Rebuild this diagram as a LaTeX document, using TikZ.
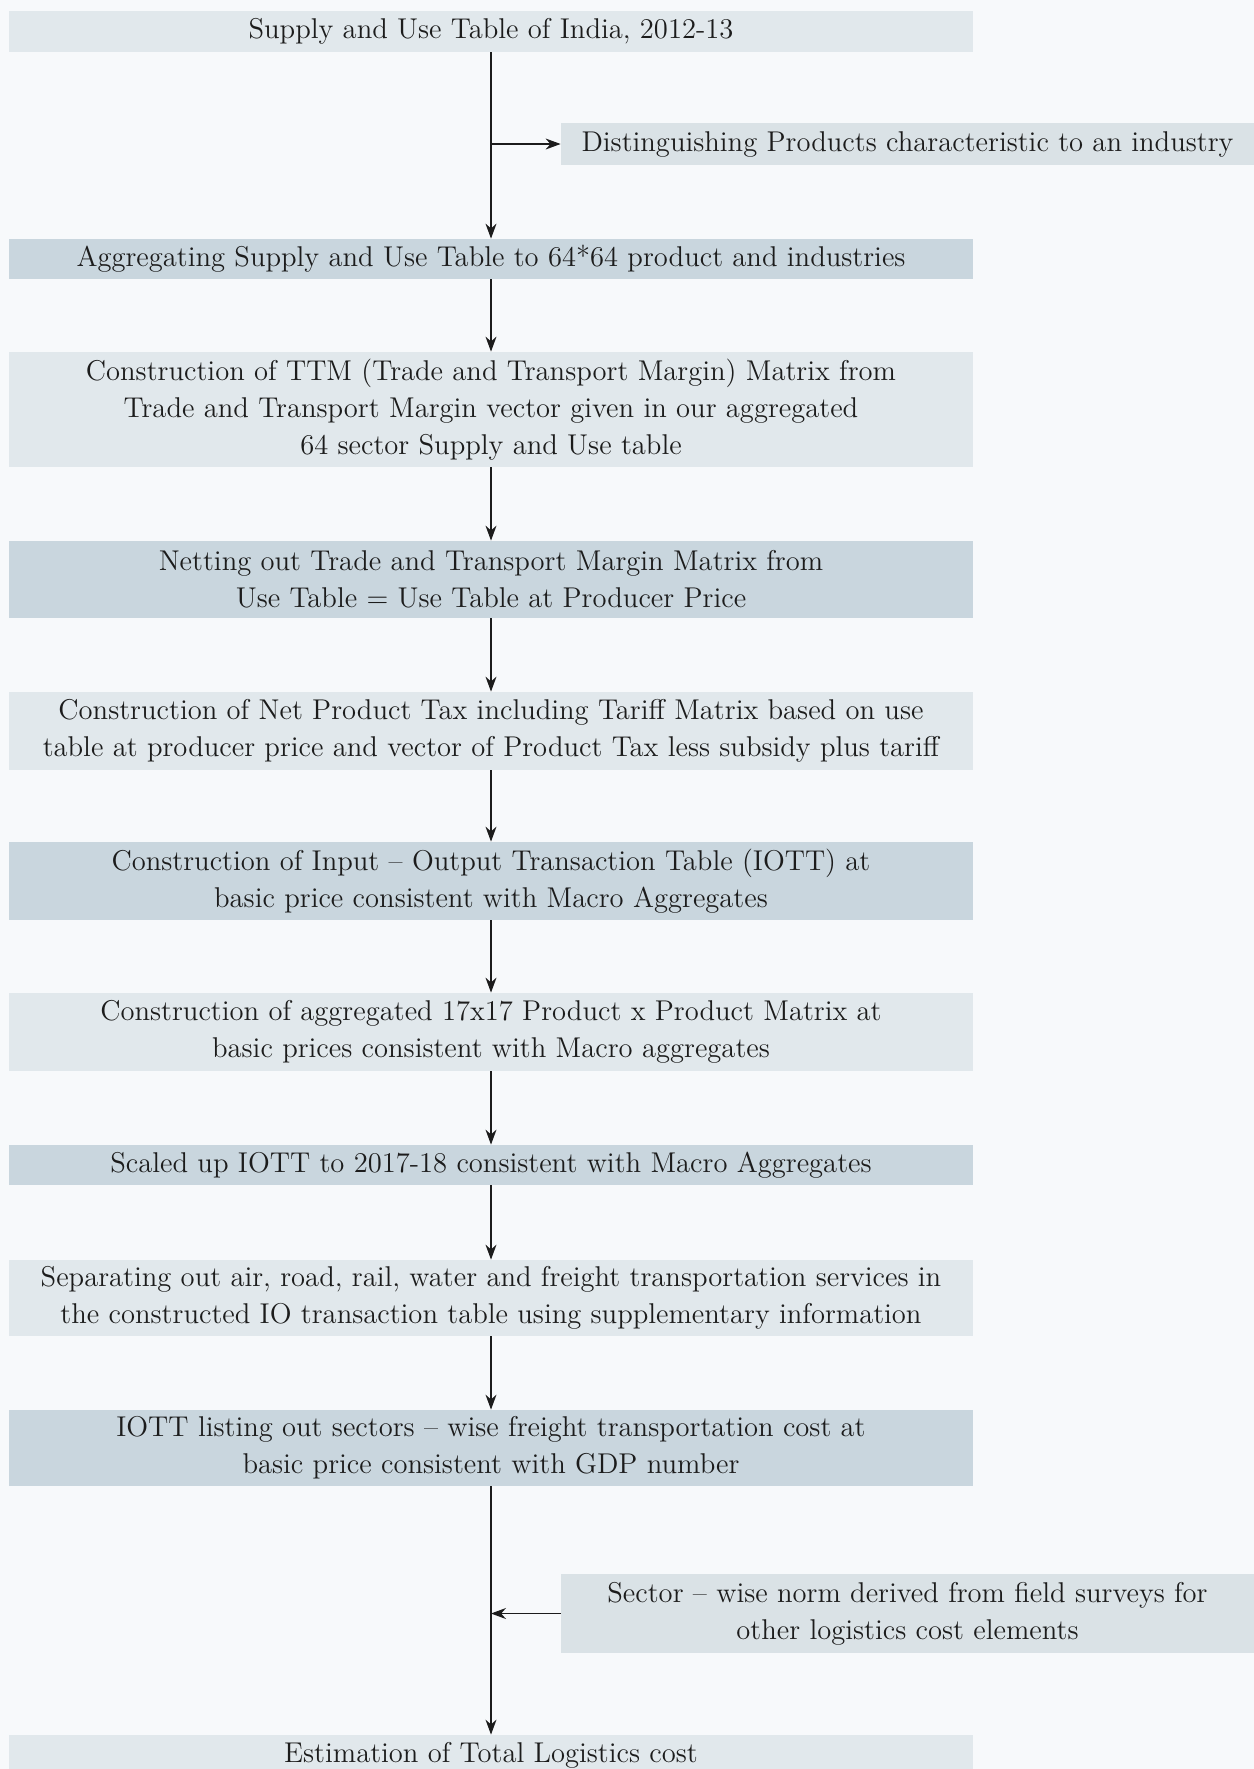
\documentclass[tikz,border=0pt]{standalone}
\usepackage{tikz}
\usetikzlibrary{positioning, arrows.meta, calc}
\usepackage{xcolor}
\definecolor{pagebg}{HTML}{F7F9FB}
\definecolor{boxlight}{HTML}{E1E8EC}
\definecolor{boxdark}{HTML}{C9D6DE}
\definecolor{boxside}{HTML}{DAE2E6}
\definecolor{inkgray}{HTML}{1C1C1C}

\begin{document}
\begin{tikzpicture}[x=0.5pt, y=-0.5pt,
  every node/.style={font=\fontsize{14.3pt}{18.6pt}\selectfont, text=inkgray, align=center, inner sep=0pt},
  mainbox/.style={minimum width=482pt},
  lightbox/.style={mainbox, fill=boxlight},
  darkbox/.style={mainbox, fill=boxdark},
  sidebox/.style={fill=boxside, minimum width=346.5pt},
  flow/.style={draw=inkgray, line width=0.6pt, -{Stealth[length=7.5pt, width=5.5pt]}}]
\clip (0, 0) rectangle (1254, 1769);
\fill[pagebg] (0, 0) rectangle (1254, 1769);

\node[lightbox, minimum height=20.5pt] (sut) at (491, 31.5) {Supply and Use Table of India, 2012-13};
\node[sidebox, minimum height=21pt] (dist) at (907.5, 144) {Distinguishing Products characteristic to an industry};
\node[darkbox, minimum height=20pt] (agg) at (491, 259) {Aggregating Supply and Use Table to 64*64 product and industries};
\node[lightbox, minimum height=57.5pt] (ttm) at (491, 409.5) {Construction of TTM (Trade and Transport Margin) Matrix from\\Trade and Transport Margin vector given in our aggregated\\64 sector Supply and Use table};
\node[darkbox, minimum height=38.5pt] (net) at (491, 579.5) {Netting out Trade and Transport Margin Matrix from\\Use Table = Use Table at Producer Price};
\node[lightbox, minimum height=39pt] (tax) at (491, 731) {Construction of Net Product Tax including Tariff Matrix based on use\\table at producer price and vector of Product Tax less subsidy plus tariff};
\node[darkbox, minimum height=39pt] (iott) at (491, 881) {Construction of Input -- Output Transaction Table (IOTT) at\\basic price consistent with Macro Aggregates};
\node[lightbox, minimum height=39pt] (agg17) at (491, 1032) {Construction of aggregated 17x17 Product x Product Matrix at\\basic prices consistent with Macro aggregates};
\node[darkbox, minimum height=20pt] (scale) at (491, 1165) {Scaled up IOTT to 2017-18 consistent with Macro Aggregates};
\node[lightbox, minimum height=38pt] (sep) at (491, 1298) {Separating out air, road, rail, water and freight transportation services in\\the constructed IO transaction table using supplementary information};
\node[darkbox, minimum height=38pt] (list) at (491, 1448) {IOTT listing out sectors -- wise freight transportation cost at\\basic price consistent with GDP number};
\node[sidebox, minimum height=39.5pt] (norm) at (907.5, 1613.5) {Sector -- wise norm derived from field surveys for\\other logistics cost elements};
\node[lightbox, minimum height=20pt] (total) at (491, 1755) {Estimation of Total Logistics cost};

\coordinate (j1) at (491, 144);
\coordinate (j2) at (491, 1613.5);

\draw[flow] (sut) -- (agg);
\draw[flow] (j1) -- (dist);
\draw[flow] (agg) -- (ttm);
\draw[flow] (ttm) -- (net);
\draw[flow] (net) -- (tax);
\draw[flow] (tax) -- (iott);
\draw[flow] (iott) -- (agg17);
\draw[flow] (agg17) -- (scale);
\draw[flow] (scale) -- (sep);
\draw[flow] (sep) -- (list);
\draw[flow] (list) -- (total);
\draw[flow] (norm) -- (j2);
\end{tikzpicture}
\end{document}
